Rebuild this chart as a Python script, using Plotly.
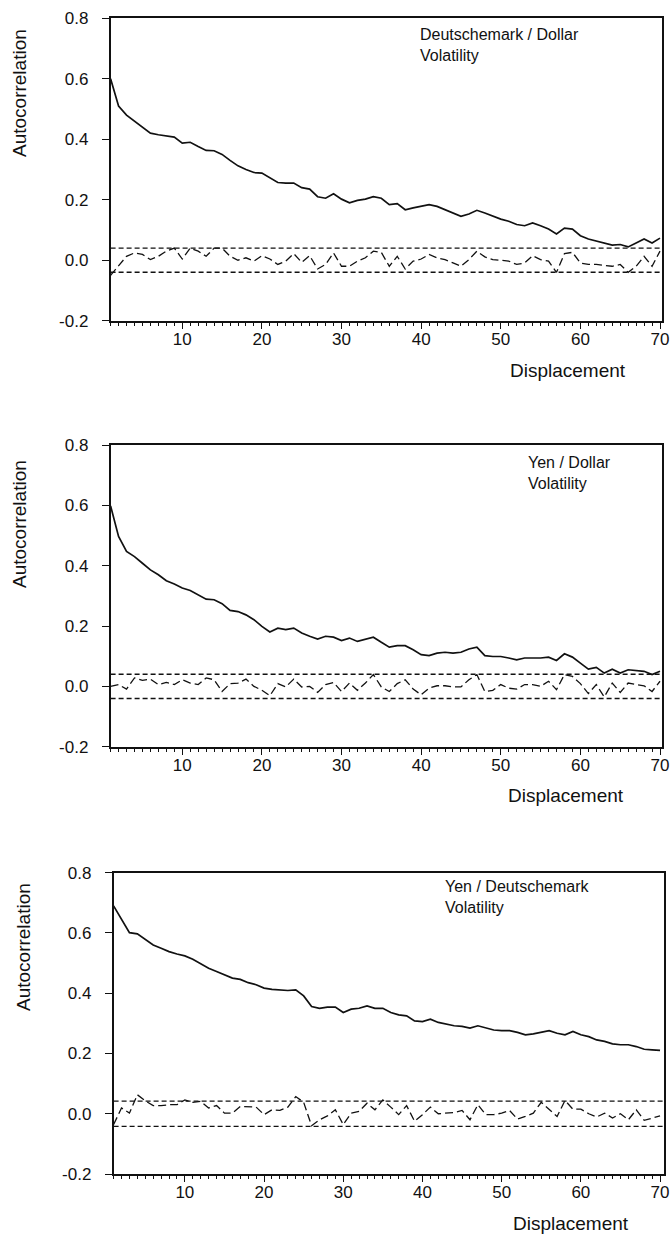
import plotly.graph_objects as go

lags = list(range(1, 71))

dm_usd_vol = [0.60, 0.51, 0.48, 0.46, 0.44, 0.42, 0.415, 0.41, 0.407, 0.387,
              0.39, 0.376, 0.363, 0.362, 0.35, 0.33, 0.312, 0.30, 0.29, 0.288,
              0.272, 0.257, 0.255, 0.255, 0.24, 0.235, 0.21, 0.205, 0.22, 0.202,
              0.19, 0.198, 0.202, 0.21, 0.205, 0.184, 0.187, 0.167, 0.173, 0.178,
              0.184, 0.178, 0.167, 0.156, 0.145, 0.153, 0.165, 0.156, 0.145, 0.136,
              0.129, 0.118, 0.114, 0.123, 0.114, 0.103, 0.087, 0.106, 0.103, 0.081,
              0.07, 0.063, 0.055, 0.05, 0.052, 0.044, 0.057, 0.07, 0.057, 0.073]
dm_usd_ret = [-0.05, -0.02, 0.013, 0.024, 0.019, 0.002, 0.013, 0.03, 0.04, 0.004,
              0.04, 0.03, 0.013, 0.04, 0.04, 0.013, 0.0, 0.008, -0.003, 0.015,
              0.004, -0.014, -0.003, 0.022, -0.007, 0.015, -0.029, -0.014, 0.024, -0.02,
              -0.02, -0.003, 0.008, 0.03, 0.026, -0.02, 0.013, -0.029, -0.003, 0.004,
              0.019, 0.008, 0.002, -0.009, -0.02, 0.002, 0.03, 0.011, 0.002, 0.0,
              -0.003, -0.014, -0.009, 0.015, 0.002, -0.003, -0.04, 0.022, 0.026, -0.009,
              -0.014, -0.014, -0.018, -0.02, -0.014, -0.04, -0.02, 0.013, -0.02, 0.03]

yen_usd_vol = [0.598, 0.497, 0.447, 0.43, 0.408, 0.386, 0.37, 0.35, 0.339, 0.326,
               0.318, 0.303, 0.289, 0.287, 0.274, 0.252, 0.248, 0.237, 0.221, 0.199,
               0.18, 0.193, 0.188, 0.193, 0.177, 0.166, 0.157, 0.166, 0.163, 0.152,
               0.16, 0.149, 0.155, 0.163, 0.146, 0.13, 0.135, 0.135, 0.121, 0.105,
               0.102, 0.11, 0.113, 0.11, 0.113, 0.124, 0.13, 0.102, 0.099, 0.099,
               0.094, 0.088, 0.094, 0.094, 0.094, 0.097, 0.086, 0.108, 0.097, 0.077,
               0.057, 0.063, 0.044, 0.057, 0.044, 0.055, 0.053, 0.05, 0.039, 0.05]
yen_usd_ret = [0.0, 0.006, -0.009, 0.028, 0.02, 0.024, 0.006, 0.013, 0.006, 0.022,
               0.011, 0.006, 0.028, 0.022, -0.017, 0.009, 0.011, 0.024, 0.0, -0.013,
               -0.031, 0.009, -0.002, 0.024, -0.002, 0.0, -0.02, 0.006, 0.013, -0.017,
               0.011, -0.013, 0.011, 0.039, -0.002, -0.017, 0.009, 0.022, -0.009, -0.028,
               -0.006, 0.002, 0.002, -0.002, -0.002, 0.022, 0.039, -0.017, -0.013, 0.006,
               -0.006, -0.009, 0.006, 0.006, 0.0, 0.017, -0.011, 0.039, 0.033, 0.009,
               -0.024, 0.006, -0.035, 0.011, -0.02, 0.011, 0.006, 0.002, -0.017, 0.017]

yen_dm_vol = [0.69, 0.643, 0.601, 0.597, 0.577, 0.56, 0.549, 0.538, 0.53, 0.524,
              0.513, 0.499, 0.483, 0.472, 0.461, 0.45, 0.446, 0.435, 0.428, 0.417,
              0.413, 0.411, 0.409, 0.411, 0.391, 0.356, 0.35, 0.354, 0.354, 0.336,
              0.347, 0.35, 0.358, 0.35, 0.35, 0.336, 0.328, 0.325, 0.308, 0.306,
              0.314, 0.303, 0.298, 0.292, 0.29, 0.284, 0.292, 0.284, 0.278, 0.276,
              0.276, 0.27, 0.262, 0.265, 0.27, 0.276, 0.267, 0.262, 0.273, 0.262,
              0.256, 0.245, 0.24, 0.232, 0.229, 0.229, 0.223, 0.214, 0.212, 0.21]
yen_dm_ret = [-0.036, 0.019, 0.002, 0.063, 0.043, 0.027, 0.027, 0.03, 0.03, 0.046,
              0.038, 0.041, 0.019, 0.027, 0.002, 0.002, 0.024, 0.024, 0.022, -0.003,
              0.013, 0.011, 0.022, 0.057, 0.038, -0.04, -0.02, -0.007, 0.013, -0.036,
              0.002, 0.008, 0.035, 0.013, 0.046, 0.022, -0.003, 0.027, -0.025, -0.003,
              0.022, 0.0, 0.002, 0.004, 0.011, -0.02, 0.03, -0.003, -0.003, 0.002,
              0.011, -0.018, -0.009, 0.002, 0.038, 0.015, -0.009, 0.044, 0.015, 0.015,
              0.0, -0.011, 0.002, -0.014, 0.0, -0.02, 0.013, -0.022, -0.014, -0.007]

bands = [0.04, 0.04, 0.042]
panel_titles = ["Deutschemark / Dollar<br>Volatility",
                "Yen / Dollar<br>Volatility",
                "Yen / Deutschemark<br>Volatility"]
y_tickvals = [-0.2, 0.0, 0.2, 0.4, 0.6, 0.8]
y_ticktext = ["-0.2", "0.0", "0.2", "0.4", "0.6", "0.8"]
x_tickvals = [5, 10, 15, 20, 25, 30, 35, 40, 45, 50, 55, 60, 65, 70]
x_ticktext = ["", "10", "", "20", "", "30", "", "40", "", "50", "", "60", "", "70"]
y_title = "Autocorrelation"
x_title = "Displacement"

W, H = 672, 1234
FONT = "Liberation Sans, Arial, sans-serif"
INK = "#111111"

# plot frames in pixels: (left, right, top, bottom) and x-range ends
frames = [(110.6, 662, 18.3, 320.7),
          (110.6, 662, 445, 746.7),
          (113.6, 664, 872.7, 1174)]
x_ranges = [(1, 70.25), (1, 70.25), (1, 70.5)]
title_pos = [(418, 24), (526, 452), (443, 876)]
ylab_pos = [(20, 93), (20, 524), (23, 947)]
xlab_pos = [(568, 370), (566, 795), (571, 1223)]

series = [(dm_usd_vol, dm_usd_ret), (yen_usd_vol, yen_usd_ret), (yen_dm_vol, yen_dm_ret)]

fig = go.Figure()
layout = dict(template="none", width=W, height=H, autosize=False,
              margin=dict(l=0, r=0, t=0, b=0, pad=0),
              paper_bgcolor="white", plot_bgcolor="white", showlegend=False,
              font=dict(family=FONT, color=INK), annotations=[])

for i, ((vol, ret), band) in enumerate(zip(series, bands)):
    n = "" if i == 0 else str(i + 1)
    xa, ya = "x" + n, "y" + n
    fig.add_trace(go.Scatter(x=lags, y=vol, mode="lines", xaxis=xa, yaxis=ya,
                             line=dict(color=INK, width=1.7)))
    fig.add_trace(go.Scatter(x=lags, y=ret, mode="lines", xaxis=xa, yaxis=ya,
                             line=dict(color=INK, width=1.3, dash="8px,4px")))
    for b in (band, -band):
        fig.add_trace(go.Scatter(x=list(x_ranges[i]), y=[b, b], mode="lines",
                                 xaxis=xa, yaxis=ya,
                                 line=dict(color=INK, width=1.4, dash="5px,3px")))
    l, r, t, btm = frames[i]
    layout["xaxis" + n] = dict(
        domain=[l / W, r / W], anchor=ya, range=list(x_ranges[i]), automargin=False,
        showline=True, linecolor=INK, linewidth=1.7, mirror=True,
        showgrid=False, zeroline=False,
        tickmode="array", tickvals=x_tickvals, ticktext=x_ticktext,
        ticks="outside", ticklen=6, tickwidth=1.2, tickcolor=INK,
        tickfont=dict(size=17, family=FONT, color=INK),
        ticklabelstandoff=-4,
        minor=dict(tickmode="array", tickvals=lags, ticks="outside",
                   ticklen=3, tickwidth=1, tickcolor=INK),
    )
    layout["yaxis" + n] = dict(
        domain=[1 - btm / H, 1 - t / H], anchor=xa, range=[-0.2, 0.8], automargin=False,
        showline=True, linecolor=INK, linewidth=1.7, mirror=True,
        showgrid=False, zeroline=False,
        tickmode="array", tickvals=y_tickvals, ticktext=y_ticktext,
        ticks="outside", ticklen=7, tickwidth=1.2, tickcolor=INK,
        tickfont=dict(size=17, family=FONT, color=INK),
        ticklabelstandoff=10,
    )
    tx, ty = title_pos[i]
    layout["annotations"].append(dict(
        text=panel_titles[i], x=tx / W, y=1 - ty / H, xref="paper", yref="paper",
        xanchor="left", yanchor="top", align="left", showarrow=False,
        font=dict(size=16, family=FONT, color=INK)))
    yx, yy = ylab_pos[i]
    layout["annotations"].append(dict(
        text=y_title, x=yx / W, y=1 - yy / H, xref="paper", yref="paper",
        xanchor="center", yanchor="middle", textangle=-90, showarrow=False,
        font=dict(size=19, family=FONT, color=INK)))
    xx, xy = xlab_pos[i]
    layout["annotations"].append(dict(
        text=x_title, x=xx / W, y=1 - xy / H, xref="paper", yref="paper",
        xanchor="center", yanchor="middle", showarrow=False,
        font=dict(size=19, family=FONT, color=INK)))

fig.update_layout(**layout)
fig.write_html(
    "out.html",
    config={"displayModeBar": False},
    post_script="document.body.style.margin='0';document.body.style.overflow='hidden';",
)
